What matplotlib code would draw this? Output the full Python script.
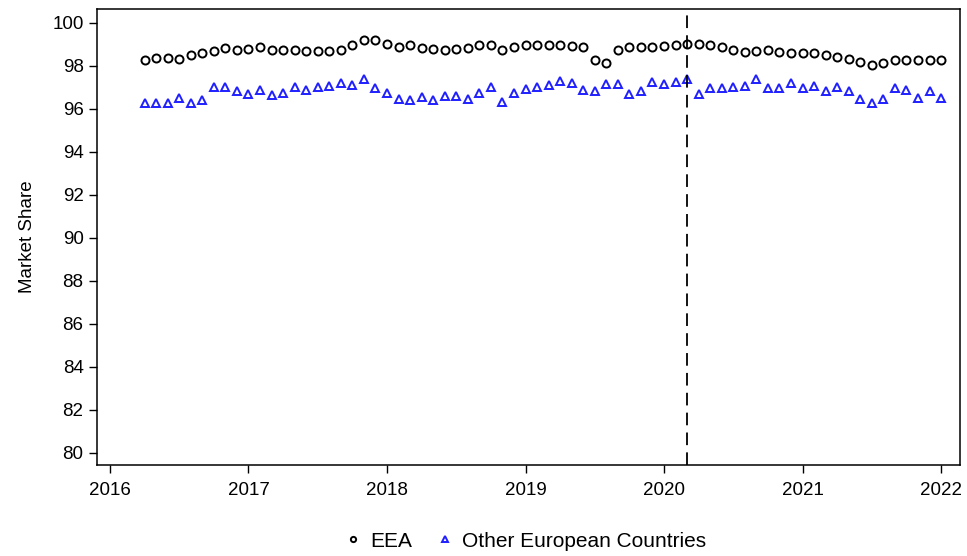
import numpy as np
import matplotlib
matplotlib.use("Agg")
import matplotlib.pyplot as plt

plt.rcParams['font.family'] = ['Liberation Sans', 'DejaVu Sans']

# monthly observations, April 2016 to January 2022
start_year = 2016
start_month = 4
n_months = 70

eea = [98.24, 98.35, 98.37, 98.31, 98.50, 98.58, 98.70, 98.81, 98.73,
       98.76, 98.85, 98.73, 98.73, 98.73, 98.70, 98.70, 98.70, 98.73, 98.96, 99.20, 99.20,
       99.01, 98.86, 98.96, 98.81, 98.76, 98.73, 98.76, 98.81, 98.96, 98.96, 98.73, 98.89,
       98.96, 98.96, 98.96, 98.96, 98.92, 98.89, 98.27, 98.14, 98.73, 98.89, 98.89, 98.89,
       98.92, 98.96, 99.01, 99.01, 98.96, 98.86, 98.73, 98.65, 98.69, 98.73, 98.65, 98.61,
       98.58, 98.58, 98.50, 98.42, 98.30, 98.19, 98.04, 98.11, 98.24, 98.24, 98.24, 98.24,
       98.24]

other = [96.28, 96.25, 96.25, 96.49, 96.28, 96.41, 97.00, 97.03, 96.84,
         96.69, 96.87, 96.64, 96.75, 97.03, 96.87, 97.03, 97.06, 97.21, 97.11, 97.37, 96.95,
         96.74, 96.44, 96.41, 96.53, 96.41, 96.58, 96.58, 96.44, 96.75, 97.03, 96.33, 96.72,
         96.92, 97.03, 97.11, 97.29, 97.21, 96.87, 96.84, 97.14, 97.16, 96.69, 96.80, 97.26,
         97.13, 97.26, 97.37, 96.69, 96.95, 96.95, 97.03, 97.06, 97.37, 96.95, 96.95, 97.21,
         96.95, 97.06, 96.80, 97.03, 96.84, 96.44, 96.28, 96.44, 96.95, 96.87, 96.49, 96.84,
         96.49]

covid_line = 2020 + 2 / 12
year_ticks = [2016, 2017, 2018, 2019, 2020, 2021, 2022]
share_ticks = list(range(80, 101, 2))

t = start_year + (start_month - 1) / 12 + np.arange(n_months) / 12

fig = plt.figure(figsize=(9.67, 5.56), dpi=100)
ax = fig.add_axes([0.1008, 0.1637, 0.892, 0.8196])

ax.plot(t, eea, linestyle='none', marker='o', markersize=5.8,
        markerfacecolor='none', markeredgecolor='black', markeredgewidth=1.4,
        label='EEA')
ax.plot(t, other, linestyle='none', marker='^', markersize=6.2,
        markerfacecolor='none', markeredgecolor='#1f1fff', markeredgewidth=1.4,
        label='Other European Countries')
ax.axvline(covid_line, color='black', linestyle=(0, (7, 4)), linewidth=1.3)

ax.set_xlim(2015.91, 2022.137)
ax.set_ylim(79.44, 100.62)
ax.set_xticks(year_ticks)
ax.set_yticks(share_ticks)
ax.tick_params(axis='both', direction='out', length=6, width=1, labelsize=13.5,
               colors='black')
ax.tick_params(axis='y', pad=4)
ax.tick_params(axis='x', pad=6)
for s in ax.spines.values():
    s.set_linewidth(1.1)
ax.set_ylabel('Market Share', fontsize=13.5, labelpad=12)

ax.legend(loc='upper center', bbox_to_anchor=(0.495, -0.105), ncol=2,
          frameon=False, fontsize=15, markerscale=0.65, handlelength=1.0,
          handletextpad=0.32, columnspacing=1.1)

fig.savefig('out.png', dpi=100)
